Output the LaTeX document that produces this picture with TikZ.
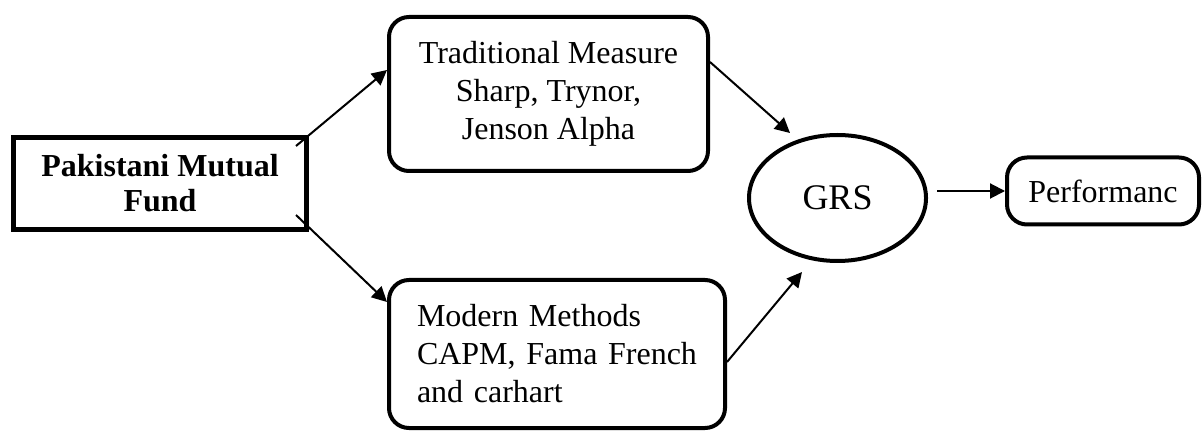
\documentclass[tikz,border=0pt]{standalone}
\usepackage{fontspec}
\setmainfont{Liberation Serif}
\usetikzlibrary{shapes.geometric,arrows.meta}
\begin{document}
\begin{tikzpicture}[x=0.5pt,y=-0.5pt,
        every node/.style={font=\fontsize{16}{19}\selectfont},
        sqbox/.style={draw,line width=2.5pt,minimum width=146.5pt,minimum height=46pt,align=center,inner sep=0pt},
        rbox/.style={draw,line width=2pt,rounded corners=10pt,inner sep=0pt},
        arr/.style={-{Triangle[length=7.5pt,width=7.5pt]},line width=1pt}]
        \useasboundingbox (0,0) rectangle (1202,432);
        \node[sqbox,font=\fontsize{16}{17.5}\bfseries\selectfont] (pmf) at (160,183.5) {Pakistani Mutual\\Fund};
        \node[rbox,minimum width=159.5pt,minimum height=77pt,align=center] (trad) at (548.5,94)
                {Traditional Measure\\Sharp, Trynor,\\Jenson Alpha};
        \node[rbox,text width=140pt,inner xsep=14pt,minimum height=74pt,align=left] (modern) at (557,354)
                {Modern Methods\\CAPM, Fama French\\and carhart};
        \node[ellipse,draw,line width=2pt,minimum width=88.5pt,minimum height=63pt,inner sep=0pt,
                font=\fontsize{18}{20}\selectfont] (grs) at (837.5,198) {GRS};
        \node[rbox,minimum width=96pt,minimum height=33.5pt] (perf) at (1103,191) {Performanc};
        \draw[arr] ([shift={(-13,11)}]pmf.north east) -- ([shift={(0,-24)}]trad.west);
        \draw[arr] ([shift={(-13,-17)}]pmf.south east) -- ([shift={(0,24)}]modern.north west);
        \draw[arr] ([shift={(0,-32)}]trad.east) -- ([shift={(-47.5,0)}]grs.north);
        \draw[arr] ([shift={(0,8)}]modern.east) -- ([shift={(-35.5,9)}]grs.south);
        \draw[arr,shorten <=4.5pt] (grs.east |- perf.west) -- (perf.west);
\end{tikzpicture}
\end{document}
